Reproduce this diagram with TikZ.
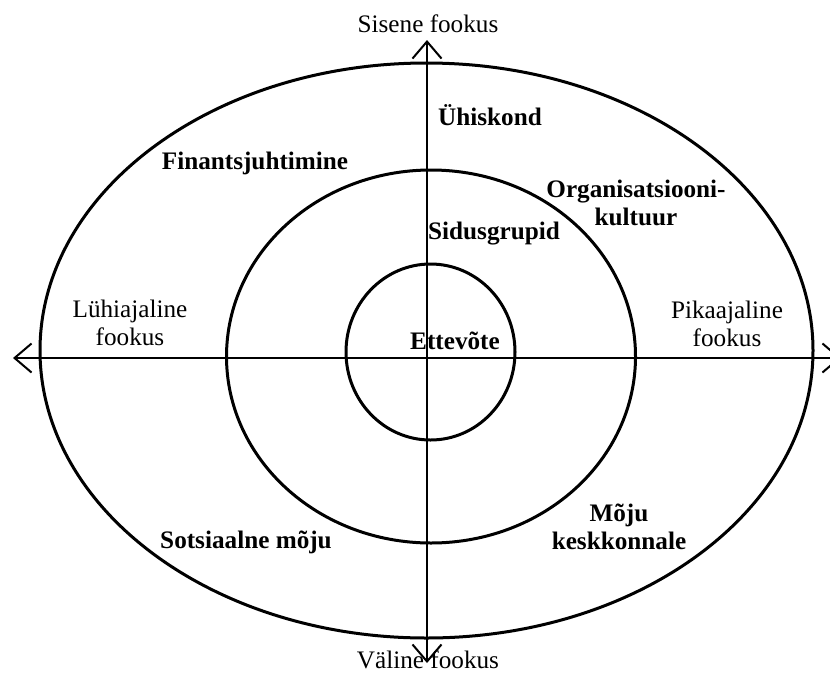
\documentclass[tikz,border=0pt]{standalone}
\usepackage{fontspec}
\setmainfont{Liberation Serif}
\usetikzlibrary{arrows.meta,positioning}

\begin{document}
\begin{tikzpicture}[x=0.5pt, y=-0.5pt, >={Straight Barb[length=8.5pt,width=14.5pt]},
   ring/.style={line width=1.5pt},
   axis/.style={line width=1pt},
   lab/.style={inner sep=0pt, align=center, font=\fontsize{12.6}{14}\selectfont},
   area/.style={lab, font=\fontsize{12.6}{14}\selectfont\bfseries}]
   \useasboundingbox (0,0) rectangle (830,681);

   \coordinate (c1) at (426.5,350.5);
   \coordinate (c2) at (431,356.5);
   \coordinate (c3) at (430.5,352);
   \draw[ring] (c1) ellipse (193.25pt and 143.75pt);
   \draw[ring] (c2) ellipse (102.25pt and 93.25pt);
   \draw[ring] (c3) ellipse (42.25pt and 44pt);

   \coordinate (top) at (427,40);
   \coordinate (bot) at (427,663);
   \coordinate (lft) at (13,358);
   \coordinate (rgt) at (841,358);
   \draw[axis] (bot)[<->] -- (top);
   \draw[axis] (lft)[<->] -- (rgt);

   \node (sis) at (428,24) [lab] {Sisene fookus};
   \node (val) at (428,660) [lab] {Väline fookus};
   \node (luh) at (130,323) [lab] {Lühiajaline\\fookus};
   \node (pik) at (727,324) [lab] {Pikaajaline\\fookus};

   \node (uhis) at (490,115) [area] {Ühiskond};
   \node (fin) at (255,163) [area] {Finantsjuhtimine};
   \node (org) at (636,203) [area] {Organisatsiooni-\\kultuur};
   \node (sid) at (494,234) [area] {Sidusgrupid};
   \node (ett) at (455,341) [area] {Ettevõte};
   \node (sots) at (246,542) [area] {Sotsiaalne mõju};
   \node (kesk) at (619,527) [area] {Mõju\\keskkonnale};

\end{tikzpicture}
\end{document}
